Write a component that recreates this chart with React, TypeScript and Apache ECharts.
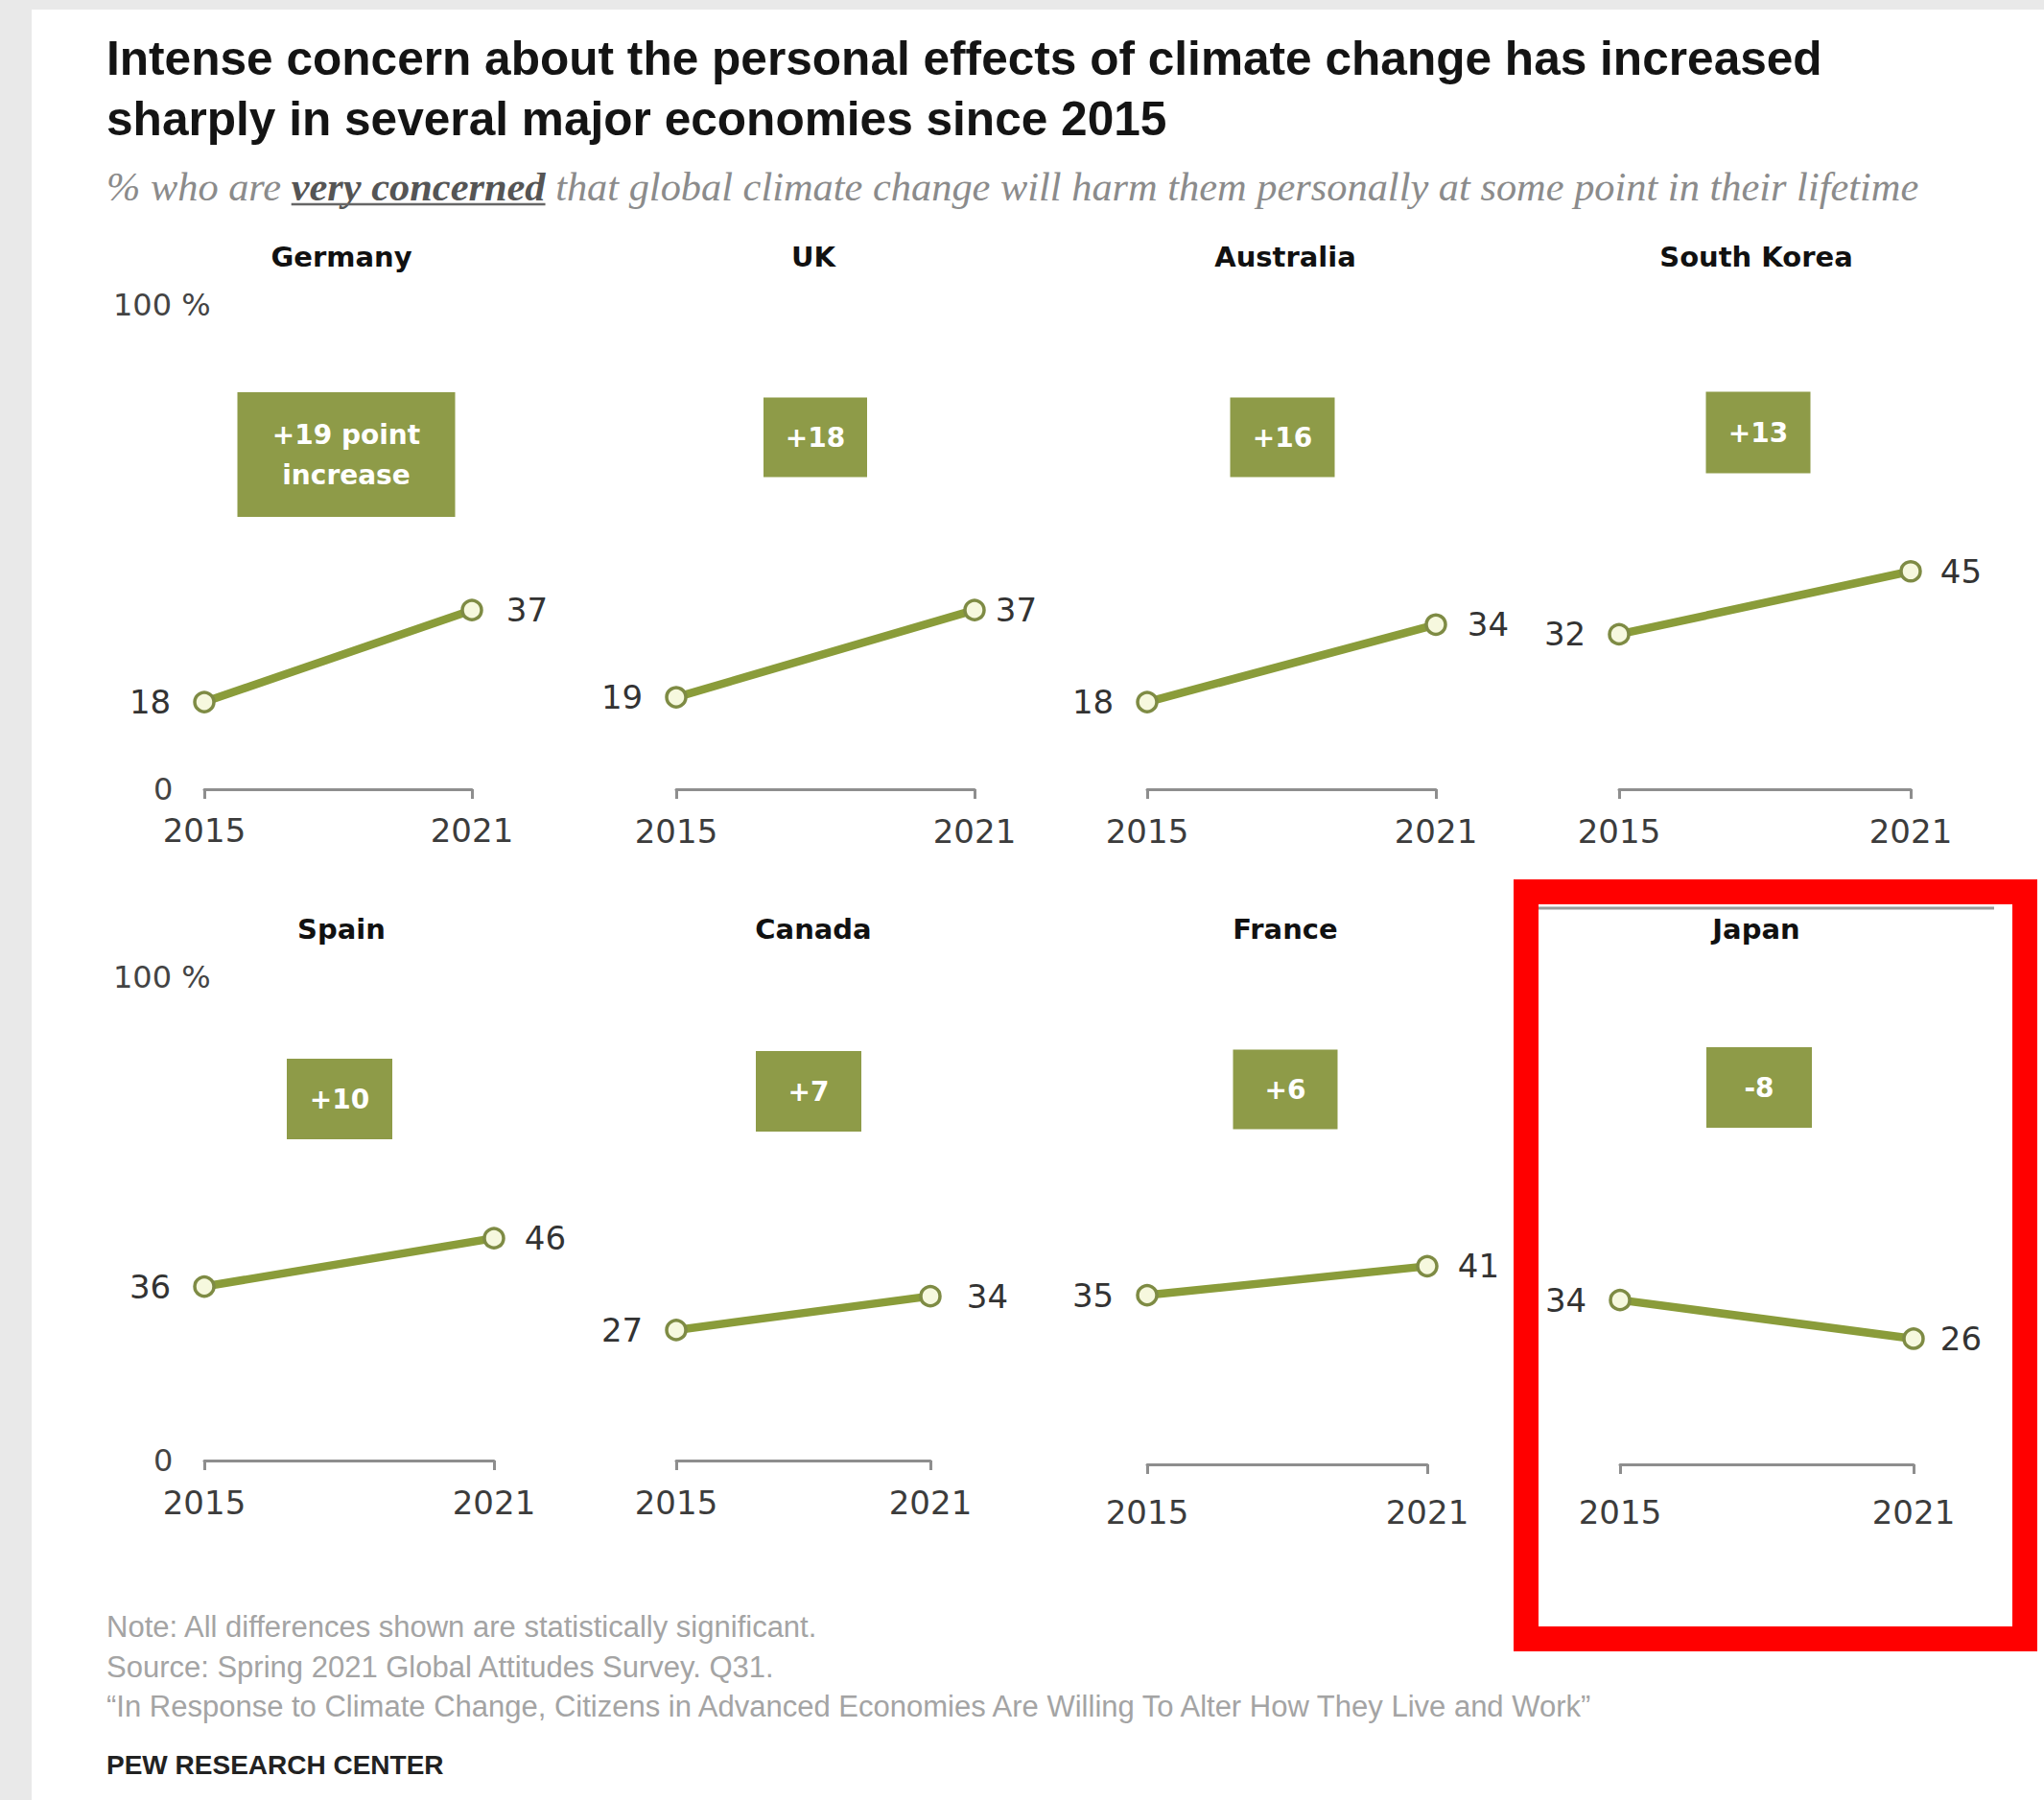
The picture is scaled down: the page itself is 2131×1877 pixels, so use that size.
import React, { useEffect, useRef } from 'react';
import * as echarts from 'echarts';

// Survey years and share (%) who are very concerned, per country
const YEARS = ['2015', '2021'];
const COUNTRIES = ['Germany', 'UK', 'Australia', 'South Korea', 'Spain', 'Canada', 'France', 'Japan'];
const SHARE_2015 = [18, 19, 18, 32, 36, 27, 35, 34];
const SHARE_2021 = [37, 37, 34, 45, 46, 34, 41, 26];
const Y_MIN = 0;
const Y_MAX = 100;

const TITLE_LINES = [
  'Intense concern about the personal effects of climate change has increased',
  'sharply in several major economies since 2015',
];
const SUBTITLE_LEAD = '% who are ';
const SUBTITLE_EMPHASIS = 'very concerned';
const SUBTITLE_REST = ' that global climate change will harm them personally at some point in their lifetime';
const NOTES = [
  'Note: All differences shown are statistically significant.',
  'Source: Spring 2021 Global Attitudes Survey. Q31.',
  '\u201cIn Response to Climate Change, Citizens in Advanced Economies Are Willing To Alter How They Live and Work\u201d',
];
const CREDIT = 'PEW RESEARCH CENTER';

// Panel geometry (pixels): plot extent, label gaps and change-box placement
const PANELS = [
  { x0: 213, x1: 492, yTop: 318, yZero: 823, off: 0, gapR: 24, titleX: 356, titleY: 268, boxX: 361, boxY: 474, boxW: 227, boxH: 130 },
  { x0: 705, x1: 1016, yTop: 318, yZero: 823, off: 1, gapR: 10, titleX: 848, titleY: 268, boxX: 850, boxY: 456, boxW: 108, boxH: 83 },
  { x0: 1196, x1: 1497, yTop: 318, yZero: 823, off: 1, gapR: 21, titleX: 1340, titleY: 268, boxX: 1337, boxY: 456, boxW: 109, boxH: 83 },
  { x0: 1688, x1: 1992, yTop: 318, yZero: 823, off: 1, gapR: 19, titleX: 1831, titleY: 268, boxX: 1833, boxY: 451, boxW: 109, boxH: 85 },
  { x0: 213, x1: 515, yTop: 1019, yZero: 1523, off: 1, gapR: 20, titleX: 356, titleY: 969, boxX: 354, boxY: 1146, boxW: 110, boxH: 84 },
  { x0: 705, x1: 970, yTop: 1019, yZero: 1523, off: 1, gapR: 26, titleX: 848, titleY: 969, boxX: 843, boxY: 1138, boxW: 110, boxH: 84 },
  { x0: 1196, x1: 1488, yTop: 1023, yZero: 1527, off: 7, gapR: 20, titleX: 1340, titleY: 969, boxX: 1340, boxY: 1136, boxW: 109, boxH: 83 },
  { x0: 1689, x1: 1995, yTop: 1023, yZero: 1527, off: 7, gapR: 16, titleX: 1831, titleY: 969, boxX: 1834, boxY: 1134, boxW: 110, boxH: 84 },
];

const OLIVE = '#8e9b48';
const LINE_OLIVE = '#8a9c3a';
const NUM_FONT = '"DejaVu Sans", Verdana, sans-serif';
const HEAD_FONT = '"Liberation Sans", Arial, sans-serif';
const SERIF_FONT = '"Liberation Serif", "Times New Roman", serif';

function changeLabel(i: number): string {
  const d = SHARE_2021[i] - SHARE_2015[i];
  const s = d > 0 ? `+${d}` : `${d}`;
  return i === 0 ? `${s} point\nincrease` : s;
}

function measure(text: string, font: string): number {
  const c = document.createElement('canvas').getContext('2d');
  if (!c) return text.length * 18;
  c.font = font;
  return c.measureText(text).width;
}

function txt(x: number, y: number, text: string, style: any, extra: any = {}) {
  return {
    type: 'text',
    x,
    y,
    ...extra,
    style: {
      text,
      textAlign: 'left',
      align: 'left',
      textVerticalAlign: 'middle',
      verticalAlign: 'middle',
      ...style,
    },
  };
}

export default function App() {
  const ref = useRef<HTMLDivElement>(null);

  useEffect(() => {
    document.body.style.margin = '0';
    document.body.style.overflow = 'hidden';
    if (!ref.current) return;
    const chart = echarts.init(ref.current, null, { renderer: 'svg' });

    const grids = PANELS.map((p) => ({
      left: p.x0,
      top: p.yTop,
      width: p.x1 - p.x0,
      height: p.yZero - p.yTop,
      containLabel: false,
    }));

    const xAxes = PANELS.map((p, i) => ({
      type: 'category',
      gridIndex: i,
      data: YEARS,
      boundaryGap: false,
      offset: p.off,
      axisLine: { show: true, lineStyle: { color: '#8e8e8e', width: 3 } },
      axisTick: { show: true, length: 10, lineStyle: { color: '#8e8e8e', width: 3 } },
      axisLabel: { fontFamily: NUM_FONT, fontSize: 34, color: '#3c3c3c', margin: 26 },
      splitLine: { show: false },
    }));

    const yAxes = PANELS.map((p, i) => {
      const firstCol = i % 4 === 0;
      return {
        type: 'value',
        gridIndex: i,
        min: Y_MIN,
        max: Y_MAX,
        interval: Y_MAX - Y_MIN,
        show: firstCol,
        axisLine: { show: false },
        axisTick: { show: false },
        splitLine: { show: false },
        axisLabel: {
          show: firstCol,
          align: 'left',
          margin: p.x0 - 118,
          fontFamily: NUM_FONT,
          fontSize: 32,
          color: '#444',
          formatter: (v: number) => (v === Y_MAX ? `${v} %` : `{z|${v}}`),
          rich: { z: { fontFamily: NUM_FONT, fontSize: 32, color: '#444', padding: [0, 0, 0, 42] } },
        },
      };
    });

    const series = PANELS.map((p, i) => ({
      type: 'line',
      name: COUNTRIES[i],
      xAxisIndex: i,
      yAxisIndex: i,
      data: [
        { value: SHARE_2015[i], label: { position: 'left', distance: 23 } },
        { value: SHARE_2021[i], label: { position: 'right', distance: p.gapR } },
      ],
      symbol: 'circle',
      symbolSize: 20,
      lineStyle: { color: LINE_OLIVE, width: 8.5 },
      itemStyle: { color: '#f6f8de', borderColor: '#7e8b44', borderWidth: 3.5 },
      label: { show: true, formatter: '{c}', fontFamily: NUM_FONT, fontSize: 34, color: '#333' },
      emphasis: { disabled: true },
      z: 3,
    }));

    // Subtitle emphasis underline, placed from measured text widths
    const subX = 111;
    const subSize = 42.4;
    const leadW = measure(SUBTITLE_LEAD, `italic ${subSize}px ${SERIF_FONT}`);
    const emphW = measure(SUBTITLE_EMPHASIS, `italic bold ${subSize}px ${SERIF_FONT}`);

    const graphics: any[] = [
      { type: 'rect', shape: { x: 0, y: 0, width: 33, height: 1877 }, style: { fill: '#e9e9e9' } },
      { type: 'rect', shape: { x: 0, y: 0, width: 2131, height: 10 }, style: { fill: '#e9e9e9' } },
      txt(111, 61, TITLE_LINES[0], { fontFamily: HEAD_FONT, fontWeight: 'bold', fontSize: 49.6, fill: '#141414' }),
      txt(111, 124, TITLE_LINES[1], { fontFamily: HEAD_FONT, fontWeight: 'bold', fontSize: 49.6, fill: '#141414' }),
      txt(subX, 194, `{a|${SUBTITLE_LEAD}}{b|${SUBTITLE_EMPHASIS}}{a|${SUBTITLE_REST}}`, {
        rich: {
          a: { fontFamily: SERIF_FONT, fontStyle: 'italic', fontSize: subSize, fill: '#8b8b8b', color: '#8b8b8b' },
          b: { fontFamily: SERIF_FONT, fontStyle: 'italic', fontWeight: 'bold', fontSize: subSize, fill: '#555', color: '#555' },
        },
      }),
      {
        type: 'line',
        shape: { x1: subX + leadW, y1: 213, x2: subX + leadW + emphW, y2: 213 },
        style: { stroke: '#666', lineWidth: 2.5 },
      },
    ];

    PANELS.forEach((p, i) => {
      graphics.push(
        txt(p.titleX, p.titleY, COUNTRIES[i], {
          fontFamily: NUM_FONT,
          fontWeight: 'bold',
          fontSize: 29,
          fill: '#111',
          textAlign: 'center',
          align: 'center',
        })
      );
      graphics.push({
        type: 'group',
        x: p.boxX,
        y: p.boxY,
        children: [
          {
            type: 'rect',
            shape: { x: -p.boxW / 2, y: -p.boxH / 2, width: p.boxW, height: p.boxH },
            style: { fill: OLIVE },
          },
          txt(0, 0, changeLabel(i), {
            fontFamily: NUM_FONT,
            fontWeight: 'bold',
            fontSize: 28,
            lineHeight: 42,
            fill: '#ffffff',
            textAlign: 'center',
            align: 'center',
          }),
        ],
      });
    });

    NOTES.forEach((n, k) => {
      graphics.push(txt(111, [1696, 1738, 1779][k], n, { fontFamily: HEAD_FONT, fontSize: 31, fill: '#a4a4a4' }));
    });
    graphics.push(txt(111, 1840, CREDIT, { fontFamily: HEAD_FONT, fontWeight: 'bold', fontSize: 28, fill: '#222' }));

    // Highlight frame around the Japan panel
    graphics.push({
      type: 'line',
      shape: { x1: 1604, y1: 947, x2: 2079, y2: 947 },
      style: { stroke: '#9a9a9a', lineWidth: 3 },
      z: 50,
    });
    graphics.push({
      type: 'rect',
      shape: { x: 1591, y: 930, width: 520, height: 779 },
      style: { fill: 'none', stroke: '#ff0000', lineWidth: 26 },
      z: 60,
    });

    chart.setOption({
      animation: false,
      backgroundColor: '#ffffff',
      grid: grids,
      xAxis: xAxes,
      yAxis: yAxes,
      series,
      graphic: graphics,
    });

    return () => {
      chart.dispose();
    };
  }, []);

  return <div ref={ref} style={{ width: 2131, height: 1877 }} />;
}
